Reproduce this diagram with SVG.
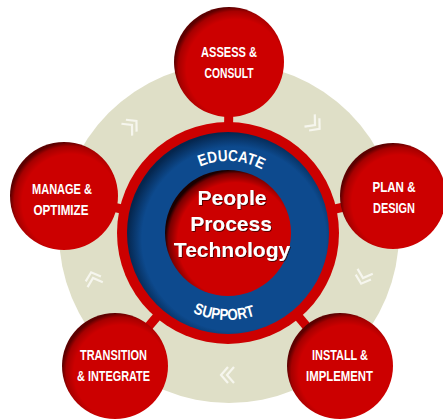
<svg xmlns="http://www.w3.org/2000/svg" width="443" height="420" viewBox="0 0 443 420">
<defs>
<radialGradient id="gSat" cx="0.56" cy="0.56" r="0.56">
<stop offset="0.8" stop-color="#cc0000"/>
<stop offset="0.93" stop-color="#a60000"/>
<stop offset="1" stop-color="#5c0000"/>
</radialGradient>
<radialGradient id="gBlue" cx="0.53" cy="0.53" r="0.53">
<stop offset="0.86" stop-color="#0d4a8e"/>
<stop offset="1" stop-color="#05264e"/>
</radialGradient>
<radialGradient id="gCore" cx="0.56" cy="0.56" r="0.56">
<stop offset="0.82" stop-color="#cc0000"/>
<stop offset="0.95" stop-color="#780000"/>
<stop offset="1" stop-color="#1a0000"/>
</radialGradient>
<filter id="shadow" x="-10%" y="-10%" width="130%" height="130%">
<feDropShadow dx="0.8" dy="0.8" stdDeviation="0.4" flood-color="#2a0000" flood-opacity="0.9"/>
</filter>
<path id="arcTop" d="M156,233 A72,72 0 0 1 300,233"/>
<path id="arcBot" d="M141,233 A87,87 0 0 0 315,233"/>
<path id="chev" d="M-7,-8 L0,0 L-7,8 M-1,-8 L6,0 L-1,8"/>
</defs>
<style>
.sat{fill:url(#gSat);}
.lbl{font-family:"Liberation Sans",Arial,sans-serif;font-weight:bold;font-size:14.5px;fill:#ffffff;text-anchor:middle;}
.core{font-family:"Liberation Sans",Arial,sans-serif;font-weight:bold;font-size:21px;fill:#ffffff;text-anchor:middle;}
.arc{font-family:"Liberation Sans",Arial,sans-serif;font-weight:bold;font-size:16px;fill:#ffffff;text-anchor:middle;}
.chev{fill:none;stroke:#f6f6ee;stroke-width:2.2;}
.neck{stroke:#cc0000;stroke-width:9;}
</style>

<g id="background">
<circle cx="229" cy="233" r="170" fill="#dfdfc7"/>
<use href="#chev" class="chev" transform="translate(132,125) rotate(-42)"/>
<use href="#chev" class="chev" transform="translate(315,125) rotate(40)"/>
<use href="#chev" class="chev" transform="translate(363,278) rotate(108)"/>
<use href="#chev" class="chev" transform="translate(227,375) rotate(180)"/>
<use href="#chev" class="chev" transform="translate(93,278) rotate(-108)"/>
</g>

<g id="connectors">
<line class="neck" x1="228" y1="233" x2="229" y2="62"/>
<line class="neck" x1="228" y1="233" x2="393" y2="196"/>
<line class="neck" x1="228" y1="233" x2="340" y2="366"/>
<line class="neck" x1="228" y1="233" x2="115" y2="366"/>
<line class="neck" x1="228" y1="233" x2="64" y2="196"/>
</g>

<g id="hub">
<circle cx="228" cy="233" r="111" fill="#cc0000"/>
<circle cx="228" cy="233" r="101" fill="url(#gBlue)"/>
<circle cx="228" cy="233" r="63" fill="url(#gCore)"/>
<text class="arc"><textPath href="#arcTop" startOffset="51.5%" textLength="64" lengthAdjust="spacingAndGlyphs">EDUCATE</textPath></text>
<text class="arc"><textPath href="#arcBot" startOffset="48.5%" textLength="64" lengthAdjust="spacingAndGlyphs">SUPPORT</textPath></text>
<g filter="url(#shadow)">
<text class="core" x="232" y="205">People</text>
<text class="core" x="231" y="231">Process</text>
<text class="core" x="232" y="257">Technology</text>
</g>
</g>

<g id="node-assess">
<circle class="sat" cx="229" cy="62" r="55"/>
<text class="lbl" x="229" y="57" textLength="56" lengthAdjust="spacingAndGlyphs">ASSESS &amp;</text>
<text class="lbl" x="229" y="78" textLength="49" lengthAdjust="spacingAndGlyphs">CONSULT</text>
</g>

<g id="node-plan">
<circle class="sat" cx="393" cy="196" r="53"/>
<text class="lbl" x="394" y="192" textLength="43" lengthAdjust="spacingAndGlyphs">PLAN &amp;</text>
<text class="lbl" x="394" y="213" textLength="42" lengthAdjust="spacingAndGlyphs">DESIGN</text>
</g>

<g id="node-install">
<circle class="sat" cx="340" cy="366" r="53"/>
<text class="lbl" x="340" y="360" textLength="56" lengthAdjust="spacingAndGlyphs">INSTALL &amp;</text>
<text class="lbl" x="339.5" y="381" textLength="67" lengthAdjust="spacingAndGlyphs">IMPLEMENT</text>
</g>

<g id="node-transition">
<circle class="sat" cx="115" cy="366" r="53"/>
<text class="lbl" x="113.5" y="360" textLength="67" lengthAdjust="spacingAndGlyphs">TRANSITION</text>
<text class="lbl" x="113.5" y="381" textLength="73" lengthAdjust="spacingAndGlyphs">&amp; INTEGRATE</text>
</g>

<g id="node-manage">
<circle class="sat" cx="64" cy="196" r="54"/>
<text class="lbl" x="62" y="194" textLength="60" lengthAdjust="spacingAndGlyphs">MANAGE &amp;</text>
<text class="lbl" x="61" y="215" textLength="55" lengthAdjust="spacingAndGlyphs">OPTIMIZE</text>
</g>
</svg>
